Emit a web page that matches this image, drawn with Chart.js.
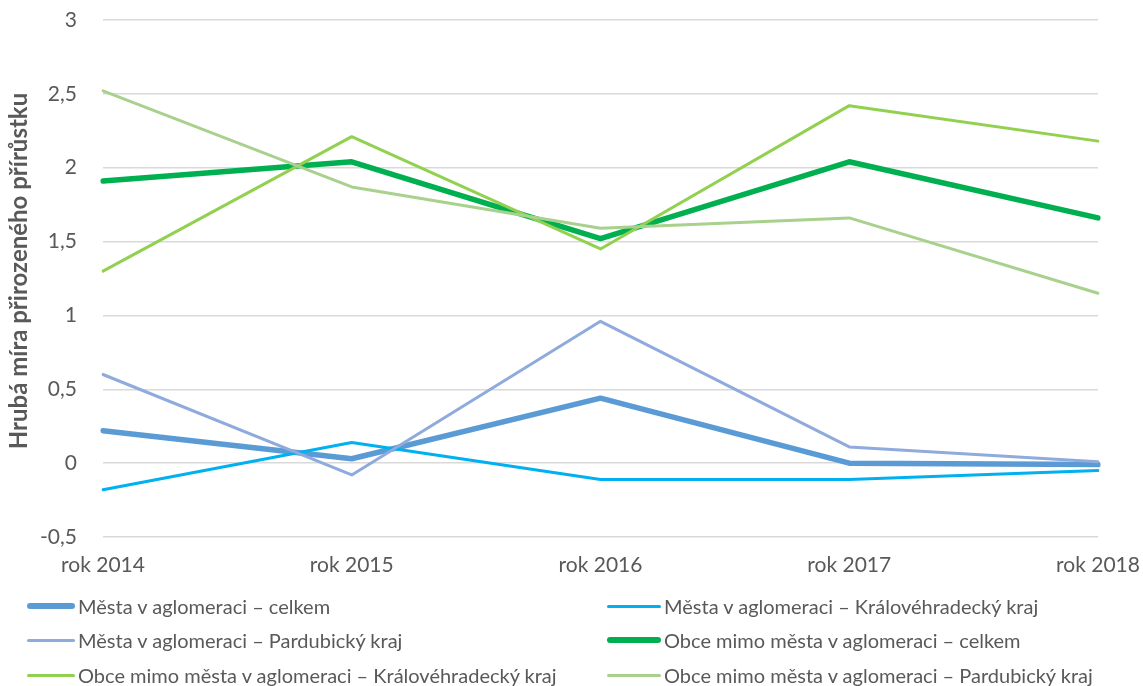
<!DOCTYPE html>
<html><head><meta charset="utf-8">
<script src="https://cdn.jsdelivr.net/npm/chart.js@4"></script>
<style>
html,body{margin:0;padding:0;background:#fff;}
#wrap{position:relative;width:1143px;height:686px;font-family:Lato,"Open Sans",sans-serif;}
#cv{position:absolute;left:0;top:0;}
#legend{position:absolute;left:0;top:0;width:1143px;height:686px;pointer-events:none;}
.li{position:absolute;display:flex;align-items:center;color:#595959;font-size:20px;white-space:nowrap;transform:translateY(-50%);}
.sw{display:inline-block;border-radius:4px;margin-right:3px;}
</style></head>
<body><div id="wrap"><canvas id="cv" width="1143" height="590"></canvas><div id="legend"></div></div>
<script>
const categories = ["rok 2014","rok 2015","rok 2016","rok 2017","rok 2018"];
const seriesNames = [
  "Města v aglomeraci – celkem",
  "Města v aglomeraci – Královéhradecký kraj",
  "Města v aglomeraci – Pardubický kraj",
  "Obce mimo města v aglomeraci – celkem",
  "Obce mimo města v aglomeraci – Královéhradecký kraj",
  "Obce mimo města v aglomeraci – Pardubický kraj"
];
const mestaCelkem = [0.22, 0.03, 0.44, 0.00, -0.01];
const mestaKH     = [-0.18, 0.14, -0.11, -0.11, -0.05];
const mestaPard   = [0.60, -0.08, 0.96, 0.11, 0.01];
const obceCelkem  = [1.91, 2.04, 1.52, 2.04, 1.66];
const obceKH      = [1.30, 2.21, 1.45, 2.42, 2.18];
const obcePard    = [2.52, 1.87, 1.59, 1.66, 1.15];
const yTicks = [-0.5, 0, 0.5, 1, 1.5, 2, 2.5, 3];
const yTitle = "Hrubá míra přirozeného přírůstku";

const seriesValues = [mestaCelkem, mestaKH, mestaPard, obceCelkem, obceKH, obcePard];
const colors = ["#5B9BD5","#00B0F0","#8FAADC","#00B050","#92D050","#A9D18E"];
const widths = [5.5,3,3,5.5,3,3];

const datasets = seriesValues.map((d,i)=>({
  label: seriesNames[i], data: d, borderColor: colors[i], backgroundColor: colors[i],
  borderWidth: widths[i], pointRadius: 0, tension: 0, fill:false,
  borderJoinStyle:'round', borderCapStyle:'round', order: seriesValues.length - i
}));

const FONT = "Lato";
const titlePlugin = {
  id:'ytitle',
  afterDraw(chart){
    const ctx = chart.ctx;
    ctx.save();
    ctx.translate(19, 271);
    ctx.rotate(-Math.PI/2);
    ctx.font = "bold 24px " + FONT;
    ctx.fillStyle = "#595959";
    ctx.textAlign = "center";
    ctx.textBaseline = "middle";
    ctx.fillText(yTitle, 0, 0);
    ctx.restore();
  }
};

new Chart(document.getElementById('cv'), {
  type:'line',
  data:{labels:categories, datasets},
  plugins:[titlePlugin],
  options:{
    responsive:false, animation:false,
    layout:{padding:{left:0,right:45,top:20,bottom:0}},
    plugins:{legend:{display:false}, tooltip:{enabled:false}},
    scales:{
      x:{
        offset:false,
        grid:{display:false, drawTicks:false},
        border:{display:false},
        ticks:{color:"#595959", font:{family:FONT,size:21}, padding:16, maxRotation:0, autoSkip:false},
        afterFit:(s)=>{s.height = 590-537; s.paddingLeft=0; s.paddingRight=0;}
      },
      y:{
        min:-0.5, max:3,
        afterBuildTicks:(s)=>{s.ticks = yTicks.map(v=>({value:v}));},
        grid:{color:"#D9D9D9", lineWidth:1.5, drawTicks:false},
        border:{display:false},
        ticks:{color:"#595959", font:{family:FONT,size:21}, padding:26,
          callback:(v)=>String(v).replace('.',',')},
        afterFit:(s)=>{s.width = 103; s.paddingTop=0; s.paddingBottom=0;}
      }
    }
  }
});

const legendPos = [[27,606],[607,606],[27,640],[607,640],[27,675],[607,675]];
const lg = document.getElementById('legend');
seriesNames.forEach((n,i)=>{
  const el = document.createElement('div');
  el.className='li';
  el.style.left = legendPos[i][0]+'px';
  el.style.top = legendPos[i][1]+'px';
  const sw = document.createElement('span');
  sw.className='sw';
  sw.style.width = (i%2===0?48:54)+'px';
  sw.style.height = widths[i]+'px';
  sw.style.background = colors[i];
  el.appendChild(sw);
  el.appendChild(document.createTextNode(n));
  lg.appendChild(el);
});
</script></body></html>
